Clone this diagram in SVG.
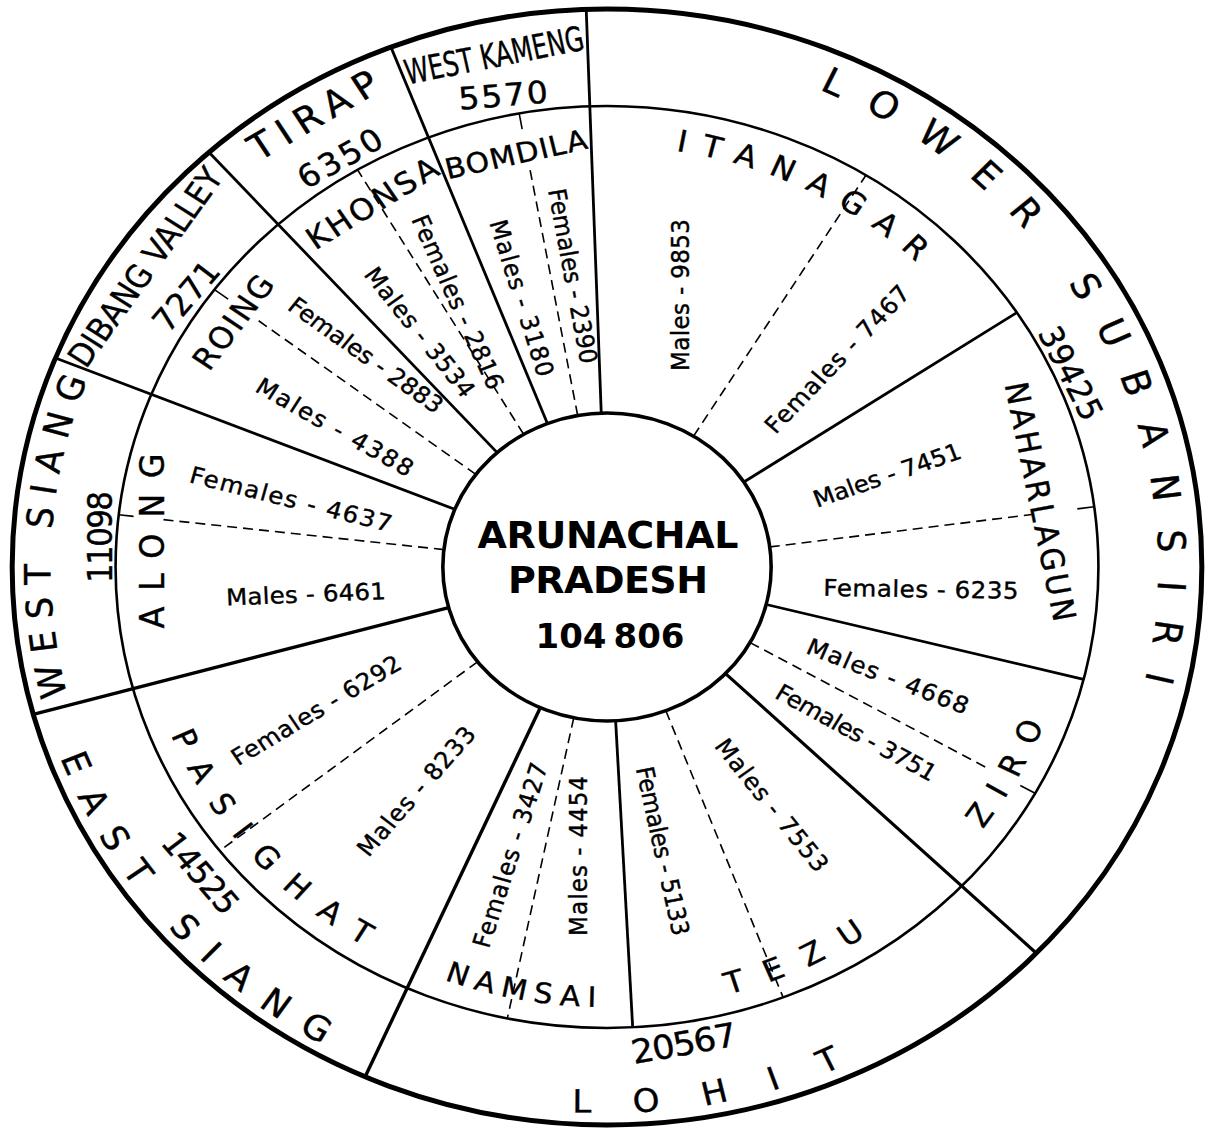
<svg xmlns="http://www.w3.org/2000/svg" width="1215" height="1130" viewBox="0 0 1215 1130">
<style>
.c{fill:none;stroke:#000;vector-effect:non-scaling-stroke}
.s{stroke:#000;stroke-width:2.8;vector-effect:non-scaling-stroke}
.d{stroke:#000;stroke-width:1.6;stroke-dasharray:10 6;vector-effect:non-scaling-stroke}
.k{stroke:#000;stroke-width:1.6;vector-effect:non-scaling-stroke}
text{font-family:"DejaVu Sans","Liberation Sans",sans-serif;fill:#000;stroke:#000;stroke-width:0.4}
.v{font-size:23px}
.n{font-size:31px}
.cen{font-weight:bold;text-anchor:middle;stroke-width:0}
</style>
<defs>
<path id="p-lower" d="M 198.7 -477.3 A 517 517 0 0 1 468.6 218.5"/>
<path id="p-itan" d="M 64.4 -416.0 A 421 421 0 0 1 364.6 -210.5"/>
<path id="p-wsiang" d="M -506.0 128.4 A 522 522 0 0 1 -427.6 -299.4"/>
<path id="p-esiang" d="M -512.7 190.7 A 547 547 0 0 0 -95.0 538.7"/>
<path id="p-lohit" d="M -32.6 544.7 A 545.7 545.7 0 0 0 350.8 418.0"/>
<path id="p-pasi" d="M -408.9 167.9 A 442 442 0 0 0 -76.8 435.3"/>
<path id="p-namsai" d="M -152.5 412.8 A 440 440 0 0 0 76.4 433.3"/>
<path id="p-tezu" d="M 113.6 427.1 A 442 442 0 0 0 338.6 284.1"/>
<path id="p-ziro" d="M 352.3 262.0 A 439 439 0 0 0 439 0"/>
</defs>
<rect width="1215" height="1130" fill="#fff"/>
<g transform="translate(607 567) scale(1.066 1)">
  <g id="connectors">
    <circle class="c" r="558" stroke-width="5"/>
    <circle class="c" r="461" stroke-width="2.6"/>
    <line class="s" x1="-5.4" y1="-153.9" x2="-19.5" y2="-557.7"/>
    <line class="s" x1="-55.9" y1="-143.5" x2="-202.7" y2="-519.9"/>
    <line class="s" x1="-103.0" y1="-114.4" x2="-373.4" y2="-414.7"/>
    <line class="s" x1="-142.8" y1="-57.7" x2="-517.4" y2="-209.0"/>
    <line class="s" x1="-148.5" y1="40.6" x2="-538.2" y2="147.3" style="stroke-width:3.4"/>
    <line class="s" x1="-62.6" y1="140.7" x2="-226.9" y2="509.7" style="stroke-width:3.4"/>
    <line class="s" x1="8.1" y1="153.8" x2="24.1" y2="460.4"/>
    <line class="s" x1="111.2" y1="106.6" x2="402.8" y2="386.2" style="stroke-width:3.2"/>
    <line class="s" x1="149.4" y1="37.5" x2="447.1" y2="112.3"/>
    <line class="s" x1="128.4" y1="-85.0" x2="384.4" y2="-254.4"/>
    <line class="d" x1="-27.5" y1="-151.5" x2="-72.4" y2="-398.5"/>
    <line class="k" x1="-79.6" y1="-437.8" x2="-82.4" y2="-453.6"/>
    <line class="d" x1="-78.2" y1="-132.7" x2="-234.0" y2="-397.2"/>
    <line class="d" x1="-123.0" y1="-92.7" x2="-329.0" y2="-247.9"/>
    <line class="k" x1="-355.4" y1="-267.8" x2="-368.2" y2="-277.4"/>
    <line class="d" x1="-153.0" y1="-17.4" x2="-416.3" y2="-47.4"/>
    <line class="k" x1="-444.1" y1="-50.6" x2="-458.0" y2="-52.2"/>
    <line class="d" x1="-121.4" y1="94.8" x2="-363.3" y2="283.8"/>
    <line class="d" x1="-31.2" y1="150.8" x2="-93.5" y2="451.4"/>
    <line class="d" x1="55.2" y1="143.8" x2="165.2" y2="430.4"/>
    <line class="d" x1="134.2" y1="75.6" x2="358.1" y2="201.8"/>
    <line class="k" x1="387.7" y1="218.5" x2="401.6" y2="226.3"/>
    <line class="d" x1="152.7" y1="-20.1" x2="398.5" y2="-52.5"/>
    <line class="k" x1="441.2" y1="-58.1" x2="457.0" y2="-60.2"/>
    <line class="d" x1="81.2" y1="-130.9" x2="242.9" y2="-391.8"/>
    <circle class="c" r="154" stroke-width="3.6" fill="#fff"/>
  </g>
  <g id="west-kameng">
    <text transform="translate(-106 -512) rotate(-11.8)" font-size="34" text-anchor="middle" dy="0.36em" textLength="171" lengthAdjust="spacingAndGlyphs">WEST KAMENG</text>
    <text class="n" transform="translate(-97.6 -472) rotate(-5)" text-anchor="middle" dy="0.36em" textLength="84">5570</text>
  </g>
  <g id="tirap">
    <text transform="translate(-275.8 -452) rotate(-31.8)" font-size="36" text-anchor="middle" dy="0.36em" textLength="136">TIRAP</text>
    <text class="n" transform="translate(-250.5 -409) rotate(-30.6)" text-anchor="middle" dy="0.36em" textLength="87">6350</text>
  </g>
  <g id="dibang-valley">
    <text transform="translate(-433.4 -300) rotate(-56)" font-size="32" text-anchor="middle" dy="0.36em" textLength="232" lengthAdjust="spacingAndGlyphs">DIBANG VALLEY</text>
    <text class="n" transform="translate(-395 -271) rotate(-51)" text-anchor="middle" dy="0.36em" textLength="80">7271</text>
  </g>
  <g id="west-siang">
    <text font-size="34" letter-spacing="11.8"><textPath href="#p-wsiang">WEST SIANG</textPath></text>
    <text class="n" transform="translate(-475.6 -30) rotate(-90)" text-anchor="middle" dy="0.36em" textLength="92">11098</text>
  </g>
  <g id="east-siang">
    <text font-size="34" letter-spacing="20.1"><textPath href="#p-esiang">EAST SIANG</textPath></text>
    <text class="n" transform="translate(-381 306) rotate(51)" text-anchor="middle" dy="0.36em" textLength="95">14525</text>
  </g>
  <g id="lohit">
    <text font-size="32" letter-spacing="41.25"><textPath href="#p-lohit">LOHIT</textPath></text>
    <text font-size="33" transform="translate(72.2 476) rotate(-10.9)" text-anchor="middle" dy="0.36em" textLength="100">20567</text>
  </g>
  <g id="lower-subansiri">
    <text font-size="36" letter-spacing="27.6"><textPath href="#p-lower">LOWER SUBANSIRI</textPath></text>
    <text class="n" transform="translate(435.3 -194) rotate(64.4)" text-anchor="middle" dy="0.36em" textLength="100">39425</text>
  </g>
  <g id="bomdila">
    <text transform="translate(-85.4 -413) rotate(-13.1)" font-size="28" text-anchor="middle" dy="0.36em" textLength="136">BOMDILA</text>
    <text class="v" transform="translate(-79.7 -269) rotate(73.7)" text-anchor="middle" dy="0.36em" textLength="162">Males - 3180</text>
    <text class="v" transform="translate(-31.9 -291) rotate(80)" text-anchor="middle" dy="0.36em" textLength="177">Females - 2390</text>
  </g>
  <g id="khonsa">
    <text transform="translate(-220.5 -364) rotate(-33)" font-size="30" text-anchor="middle" dy="0.36em" textLength="141">KHONSA</text>
    <text class="v" transform="translate(-175.4 -235) rotate(53)" text-anchor="middle" dy="0.36em" textLength="156">Males - 3534</text>
    <text class="v" transform="translate(-139.8 -265) rotate(67)" text-anchor="middle" dy="0.36em" textLength="187">Females - 2816</text>
  </g>
  <g id="roing">
    <text transform="translate(-350.8 -245) rotate(-54.5)" font-size="30" text-anchor="middle" dy="0.36em" textLength="108">ROING</text>
    <text class="v" transform="translate(-255.2 -140) rotate(31)" text-anchor="middle" dy="0.36em" textLength="168">Males - 4388</text>
    <text class="v" transform="translate(-226 -212) rotate(37.1)" text-anchor="middle" dy="0.36em" textLength="175">Females - 2883</text>
  </g>
  <g id="along">
    <text transform="translate(-426.8 -26) rotate(-90)" font-size="32" text-anchor="middle" dy="0.36em" textLength="175">ALONG</text>
    <text class="v" transform="translate(-296.4 -68) rotate(14.8)" text-anchor="middle" dy="0.36em" textLength="195">Females - 4637</text>
    <text class="v" transform="translate(-282.4 27) rotate(-2.5)" text-anchor="middle" dy="0.36em" textLength="150">Males - 6461</text>
  </g>
  <g id="pasighat">
    <text font-size="30" letter-spacing="19.4"><textPath href="#p-pasi">PASIGHAT</textPath></text>
    <text class="v" transform="translate(-273 143) rotate(-32.4)" text-anchor="middle" dy="0.36em" textLength="184">Females - 6292</text>
    <text class="v" transform="translate(-179.2 224) rotate(-50.4)" text-anchor="middle" dy="0.36em" textLength="160">Males - 8233</text>
  </g>
  <g id="namsai">
    <text font-size="28" letter-spacing="7.1"><textPath href="#p-namsai">NAMSAI</textPath></text>
    <text class="v" transform="translate(-91 288) rotate(-73.2)" text-anchor="middle" dy="0.36em" textLength="192">Females - 3427</text>
    <text class="v" transform="translate(-27.2 289) rotate(-90)" text-anchor="middle" dy="0.36em" textLength="160">Males - 4454</text>
  </g>
  <g id="tezu">
    <text font-size="30" letter-spacing="21"><textPath href="#p-tezu">TEZU</textPath></text>
    <text class="v" transform="translate(52.5 284) rotate(78.3)" text-anchor="middle" dy="0.36em" textLength="172">Females - 5133</text>
    <text class="v" transform="translate(154.8 238) rotate(52.8)" text-anchor="middle" dy="0.36em" textLength="160">Males - 7553</text>
  </g>
  <g id="ziro">
    <text font-size="30" letter-spacing="15.2"><textPath href="#p-ziro">ZIRO</textPath></text>
    <text class="v" transform="translate(234 165.5) rotate(30)" text-anchor="middle" dy="0.36em" textLength="170">Females - 3751</text>
    <text class="v" transform="translate(263.6 109) rotate(22.5)" text-anchor="middle" dy="0.36em" textLength="162">Males - 4668</text>
  </g>
  <g id="naharlagun">
    <text transform="translate(406.7 -65.5) rotate(79)" font-size="30" text-anchor="middle" dy="0.36em" textLength="243">NAHARLAGUN</text>
    <text class="v" transform="translate(294.6 22) rotate(1)" text-anchor="middle" dy="0.36em" textLength="183">Females - 6235</text>
    <text class="v" transform="translate(262.7 -92) rotate(-20)" text-anchor="middle" dy="0.36em" textLength="146">Males - 7451</text>
  </g>
  <g id="itanagar">
    <text font-size="30" letter-spacing="14.7"><textPath href="#p-itan">ITANAGAR</textPath></text>
    <text class="v" transform="translate(215.8 -208) rotate(-47.8)" text-anchor="middle" dy="0.36em" textLength="190">Females - 7467</text>
    <text class="v" transform="translate(68.5 -272) rotate(-90)" text-anchor="middle" dy="0.36em" textLength="152">Males - 9853</text>
  </g>
</g>
<g id="arunachal-pradesh">
  <text class="cen" x="608" y="548" font-size="38" textLength="261">ARUNACHAL</text>
  <text class="cen" x="608" y="593" font-size="38" textLength="200">PRADESH</text>
  <text class="cen" x="610" y="648" font-size="34">104<tspan dx="7">806</tspan></text>
</g>
</svg>
